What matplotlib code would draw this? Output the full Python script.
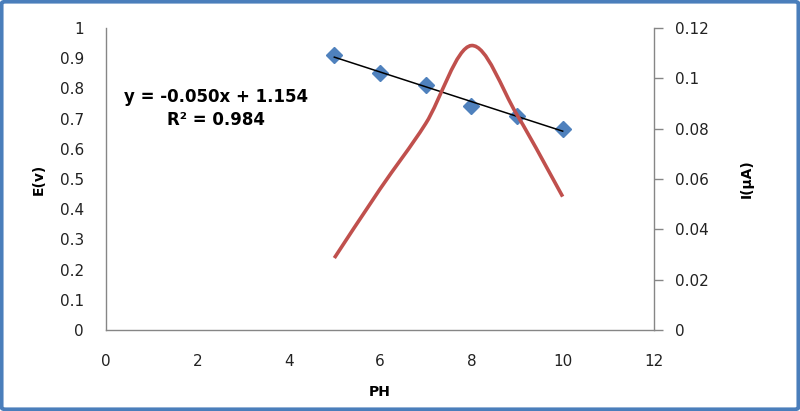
import numpy as np
import matplotlib
matplotlib.use('Agg')
import matplotlib.pyplot as plt
from matplotlib.path import Path
from matplotlib.patches import PathPatch, FancyBboxPatch

# data
ph = [5, 6, 7, 8, 9, 10]
e_volts = [0.91, 0.85, 0.81, 0.74, 0.71, 0.665]
current_ua = [0.0286, 0.056, 0.082, 0.113, 0.0855, 0.053]

eq_text = 'y = -0.050x + 1.154'
r2_text = 'R² = 0.984'

x_ticks = [0, 2, 4, 6, 8, 10, 12]
e_ticks = [0, 0.1, 0.2, 0.3, 0.4, 0.5, 0.6, 0.7, 0.8, 0.9, 1]
i_ticks = [0, 0.02, 0.04, 0.06, 0.08, 0.1, 0.12]

BLUE = '#4f81bd'
FRAME = '#4a7ebb'
RED = '#c0504d'
GRAY = '#868686'

plt.rcParams['font.family'] = ['DejaVu Sans']


def smooth_path(xs, ys):
    """Excel-like smoothed line: cubic Bezier segments (Catmull-Rom control points)"""
    pts = np.column_stack([xs, ys]).astype(float)
    n = len(pts)
    verts = [pts[0]]
    codes = [Path.MOVETO]
    for i in range(n - 1):
        p0 = pts[i - 1] if i > 0 else pts[i]
        p1 = pts[i]
        p2 = pts[i + 1]
        p3 = pts[i + 2] if i + 2 < n else pts[i + 1]
        c1 = p1 + (p2 - p0) / 6.0
        c2 = p2 - (p3 - p1) / 6.0
        verts += [c1, c2, p2]
        codes += [Path.CURVE4] * 3
    return Path(verts, codes)


fig = plt.figure(figsize=(8, 4.11), dpi=100)
ax = fig.add_axes([0.1325, 0.197, 0.685, 0.735])
ax2 = ax.twinx()

# E(v) points and linear trendline
ax.plot(ph, e_volts, linestyle='none', marker='D', markersize=8.5,
        color=BLUE, zorder=3)
coef = np.polyfit(ph, e_volts, 1)
ax.plot([ph[0], ph[-1]], np.polyval(coef, [ph[0], ph[-1]]),
        color='black', linewidth=1.1, zorder=4)

# I(uA) smoothed curve on secondary axis
ax2.add_patch(PathPatch(smooth_path(ph, current_ua), facecolor='none',
                        edgecolor=RED, linewidth=2.6, capstyle='butt'))

ax.set_xlim(0, 12)
ax.set_ylim(0, 1)
ax2.set_ylim(0, 0.12)
ax.set_xticks(x_ticks)
ax.set_xticklabels([str(t) for t in x_ticks])
ax.set_yticks(e_ticks)
ax.set_yticklabels([f'{t:g}' for t in e_ticks])
ax2.set_yticks(i_ticks)
ax2.set_yticklabels([f'{t:g}' for t in i_ticks])

ax.spines['top'].set_visible(False)
ax2.spines['top'].set_visible(False)
for a in (ax, ax2):
    for s in ['left', 'bottom', 'right']:
        a.spines[s].set_color(GRAY)
        a.spines[s].set_linewidth(1.0)
ax2.spines['left'].set_visible(False)
ax2.spines['bottom'].set_visible(False)
ax.spines['right'].set_visible(False)

ax.tick_params(axis='x', length=0, pad=17, labelsize=11, labelcolor='#222222')
ax.tick_params(axis='y', length=0, pad=16, labelsize=11, labelcolor='#222222')
ax2.tick_params(axis='y', length=6.5, width=1, color=GRAY, pad=8.5,
                labelsize=11, labelcolor='#222222')

ax.set_xlabel('PH', fontsize=10, fontweight='bold', labelpad=12)
ax.set_ylabel('E(v)', fontsize=10, fontweight='bold', labelpad=10)
ax2.set_ylabel('I(µA)', fontsize=10, fontweight='bold', labelpad=22)

ax.text(0.2, 0.77, eq_text, transform=ax.transAxes, ha='center', va='center',
        fontsize=12, fontweight='bold')
ax.text(0.2, 0.695, r2_text, transform=ax.transAxes, ha='center', va='center',
        fontsize=12, fontweight='bold')

# blue frame around the whole chart
fig.patches.append(FancyBboxPatch((0.002, 0.004), 0.996, 0.992,
                                  boxstyle='round,pad=0,rounding_size=0.005',
                                  transform=fig.transFigure, facecolor='none',
                                  edgecolor=FRAME, linewidth=2.8))

fig.savefig('out.png', dpi=100)
